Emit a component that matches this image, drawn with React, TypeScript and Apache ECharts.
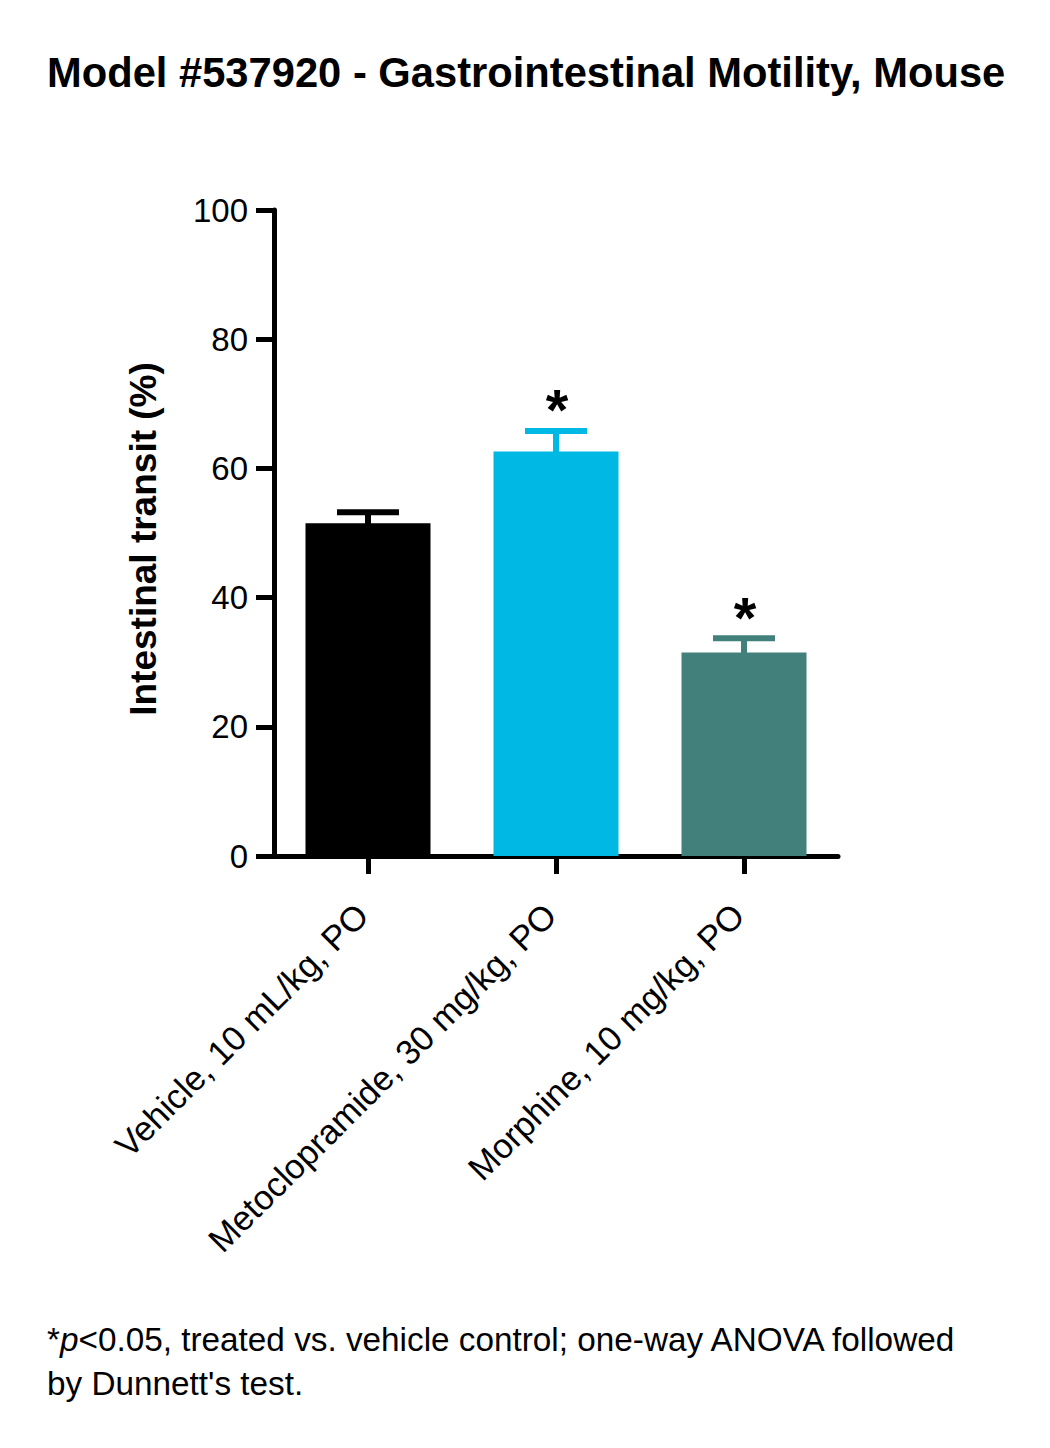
import React, { useEffect, useRef } from "react";
import * as echarts from "echarts";

const categories = ["Vehicle, 10 mL/kg, PO", "Metoclopramide, 30 mg/kg, PO", "Morphine, 10 mg/kg, PO"];
const means = [51.5, 62.6, 31.5];
const sems = [1.7, 3.2, 2.2];
const colors = ["#000000", "#00B8E4", "#42807C"];
const stars = ["", "*", "*"];
const yTicks = [0, 20, 40, 60, 80, 100];

const FONT = "'Liberation Sans', Arial, Helvetica, sans-serif";

export default function App() {
  const ref = useRef<HTMLDivElement>(null);
  useEffect(() => {
    if (!ref.current) return;
    const chart = echarts.init(ref.current, null, { renderer: "svg" });
    const option: any = {
      animation: false,
      backgroundColor: "#ffffff",
      textStyle: { fontFamily: FONT },
      grid: { left: 274, top: 210, width: 564, height: 646, containLabel: false },
      xAxis: {
        type: "category",
        data: categories,
        axisLine: { show: true, lineStyle: { color: "#000", width: 5 } },
        axisTick: { show: true, alignWithLabel: true, length: 18, lineStyle: { color: "#000", width: 5 } },
        axisLabel: {
          rotate: 45,
          interval: 0,
          margin: 48,
          padding: [0, 8, 0, 0],
          color: "#000",
          fontSize: 34.5,
          fontFamily: FONT,
        },
        splitLine: { show: false },
      },
      yAxis: {
        type: "value",
        min: yTicks[0],
        max: yTicks[yTicks.length - 1],
        interval: 20,
        name: "Intestinal transit (%)",
        nameLocation: "middle",
        nameGap: 112,
        nameTextStyle: { color: "#000", fontSize: 37, fontWeight: "bold", fontFamily: FONT, padding: [0, 12, 0, 0] },
        axisLine: { show: true, lineStyle: { color: "#000", width: 5 } },
        axisTick: { show: true, length: 18, lineStyle: { color: "#000", width: 5 } },
        axisLabel: { margin: 26, color: "#000", fontSize: 33, fontFamily: FONT },
        splitLine: { show: false },
      },
      series: [
        {
          type: "bar",
          barWidth: 125,
          data: means.map((v, i) => ({ value: v, itemStyle: { color: colors[i] } })),
          z: 2,
        },
        {
          type: "custom",
          z: 3,
          data: means.map((v, i) => [i, v, v + sems[i]]),
          renderItem: (params: any, api: any) => {
            const i = api.value(0);
            const top = api.coord([i, api.value(2)]);
            const base = api.coord([i, api.value(1)]);
            const color = colors[params.dataIndex];
            const capHalf = 31;
            const th = 6;
            return {
              type: "group",
              children: [
                {
                  type: "rect",
                  shape: { x: top[0] - th / 2, y: top[1], width: th, height: base[1] - top[1] + 1 },
                  style: { fill: color },
                },
                {
                  type: "rect",
                  shape: { x: top[0] - capHalf, y: top[1] - th / 2, width: capHalf * 2, height: th },
                  style: { fill: color },
                },
                {
                  type: "text",
                  style: {
                    text: stars[params.dataIndex],
                    x: top[0] + 1,
                    y: top[1] + 8,
                    align: "center",
                    verticalAlign: "bottom",
                    fontSize: 58,
                    fontWeight: "bold",
                    fontFamily: FONT,
                    fill: "#000",
                  },
                },
              ],
            };
          },
        },
      ],
      graphic: [
        {
          type: "text",
          left: 47,
          top: 51,
          style: {
            text: "Model #537920 - Gastrointestinal Motility, Mouse",
            fontSize: 41.7,
            fontWeight: "bold",
            fontFamily: FONT,
            fill: "#000",
          },
        },
        {
          type: "text",
          left: 47,
          top: 1323,
          style: {
            text: "{n|*}{i|p}{n|<0.05, treated vs. vehicle control; one-way ANOVA followed}\n{n|by Dunnett's test.}",
            fill: "#000",
            rich: {
              n: { fontSize: 33.3, fontFamily: FONT, lineHeight: 44, fill: "#000" },
              i: { fontSize: 33.3, fontFamily: FONT, fontStyle: "italic", lineHeight: 44, fill: "#000" },
            },
          },
        },
      ],
    };
    chart.setOption(option);
    return () => chart.dispose();
  }, []);
  return <div ref={ref} style={{ position: "absolute", left: 0, top: 0, width: 1050, height: 1448 }} />;
}
